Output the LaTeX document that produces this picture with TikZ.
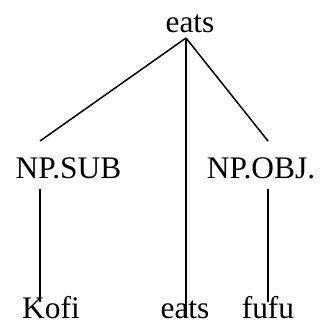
\documentclass[tikz,border=0pt]{standalone}
\usepackage{fontspec}
\setmainfont{Liberation Serif}
\begin{document}
\begin{tikzpicture}[x=1pt,y=-1pt,
  lbl/.style={anchor=base,inner sep=0pt,font=\fontsize{31.4}{36}\selectfont},
  edge/.style={line width=1.5pt}]
\useasboundingbox (0,0) rectangle (320,325);
\node[lbl] (root) at (190,32) {eats};
\node[lbl] (sub) at (68.5,178) {NP.SUB};
\node[lbl] (obj) at (261,178) {NP.OBJ.};
\node[lbl] (kofi) at (51,318) {Kofi};
\node[lbl] (verb) at (185,318) {eats};
\node[lbl] (fufu) at (268,318) {fufu};
\coordinate (rootfoot) at (186,38);
\coordinate (subhead) at (40,141);
\coordinate (objhead) at (268,141);
\coordinate (subfoot) at (40,189);
\coordinate (objfoot) at (268,189);
\coordinate (kofihead) at (40,302);
\coordinate (fufuhead) at (268,302);
\coordinate (verbhead) at (186,318);
\draw[edge] (rootfoot) -- (subhead);
\draw[edge] (rootfoot) -- (objhead);
\draw[edge] (rootfoot) -- (verbhead);
\draw[edge] (subfoot) -- (kofihead);
\draw[edge] (objfoot) -- (fufuhead);
\end{tikzpicture}
\end{document}
